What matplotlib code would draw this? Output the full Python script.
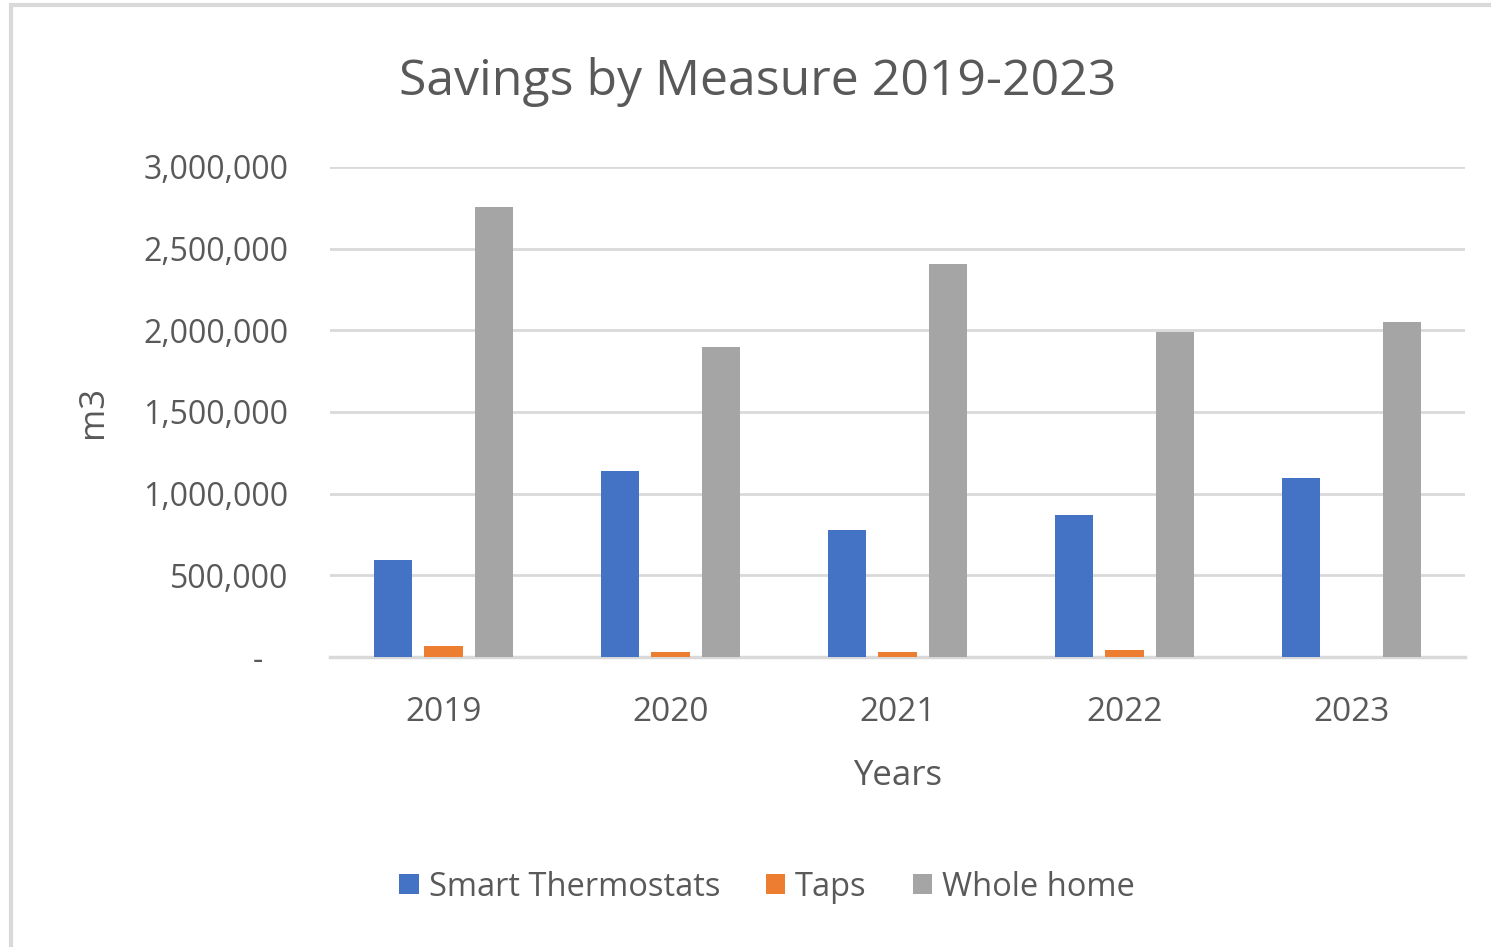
import matplotlib.pyplot as plt
import numpy as np
from matplotlib.patches import Rectangle
from matplotlib.ticker import FuncFormatter

years = ['2019', '2020', '2021', '2022', '2023']
thermostats = [595000, 1138000, 778000, 869000, 1096000]
taps = [67000, 30000, 30000, 43000, 0]
whole_home = [2755000, 1898000, 2406000, 1990000, 2051000]

plt.rcParams['font.family'] = ['Open Sans', 'DejaVu Sans']
txt = '#595959'
grid = '#d9d9d9'

fig = plt.figure(figsize=(14.91, 9.47), dpi=100)
fig.patches.append(Rectangle((11 / 1491, -0.1), 1.2, (947 - 5) / 947 + 0.1,
                             transform=fig.transFigure, fill=False,
                             edgecolor='#d9d9d9', linewidth=3, zorder=0))

ax = fig.add_axes([330 / 1491, 1 - 657 / 947, 1135 / 1491, 490 / 947])

x = np.arange(len(years))
w = 0.17
off = 0.222
ax.bar(x - off, thermostats, w, color='#4472c4', label='Smart Thermostats', zorder=3)
ax.bar(x, taps, w, color='#ed7d31', label='Taps', zorder=3)
ax.bar(x + off, whole_home, w, color='#a5a5a5', label='Whole home', zorder=3)

ax.set_xlim(-0.5, len(years) - 0.5)
ax.set_ylim(0, 3000000)
ax.set_yticks(np.arange(0, 3000001, 500000))
# accounting style: zero shown as a dash
ax.yaxis.set_major_formatter(FuncFormatter(lambda v, p: '-   ' if v == 0 else f'{int(v):,}'))
ax.set_xticks(x)
ax.set_xticklabels(years)
ax.grid(axis='y', color=grid, linewidth=2, zorder=0)
for s in ['top', 'right', 'left']:
    ax.spines[s].set_visible(False)
ax.spines['bottom'].set_color(grid)
ax.spines['bottom'].set_linewidth(2.5)
ax.tick_params(axis='both', length=0, labelsize=23, labelcolor=txt)
ax.tick_params(axis='x', labelsize=24, pad=28)
ax.tick_params(axis='y', pad=30)

ax.set_xlabel('Years', fontsize=25, color=txt, labelpad=22)
ax.set_ylabel('m3', fontsize=25, color=txt, labelpad=24)

fig.text(758 / 1491, 1 - 82 / 947, 'Savings by Measure 2019-2023', ha='center',
         va='center', fontsize=36, color=txt)

ax.legend(loc='center', bbox_to_anchor=(767 / 1491, 1 - 887 / 947),
          bbox_transform=fig.transFigure, ncol=3, frameon=False, fontsize=23.5,
          labelcolor=txt, handlelength=0.6, handleheight=0.6, handletextpad=0.3,
          columnspacing=1.4)

fig.savefig('out.png', dpi=100, facecolor='white')
